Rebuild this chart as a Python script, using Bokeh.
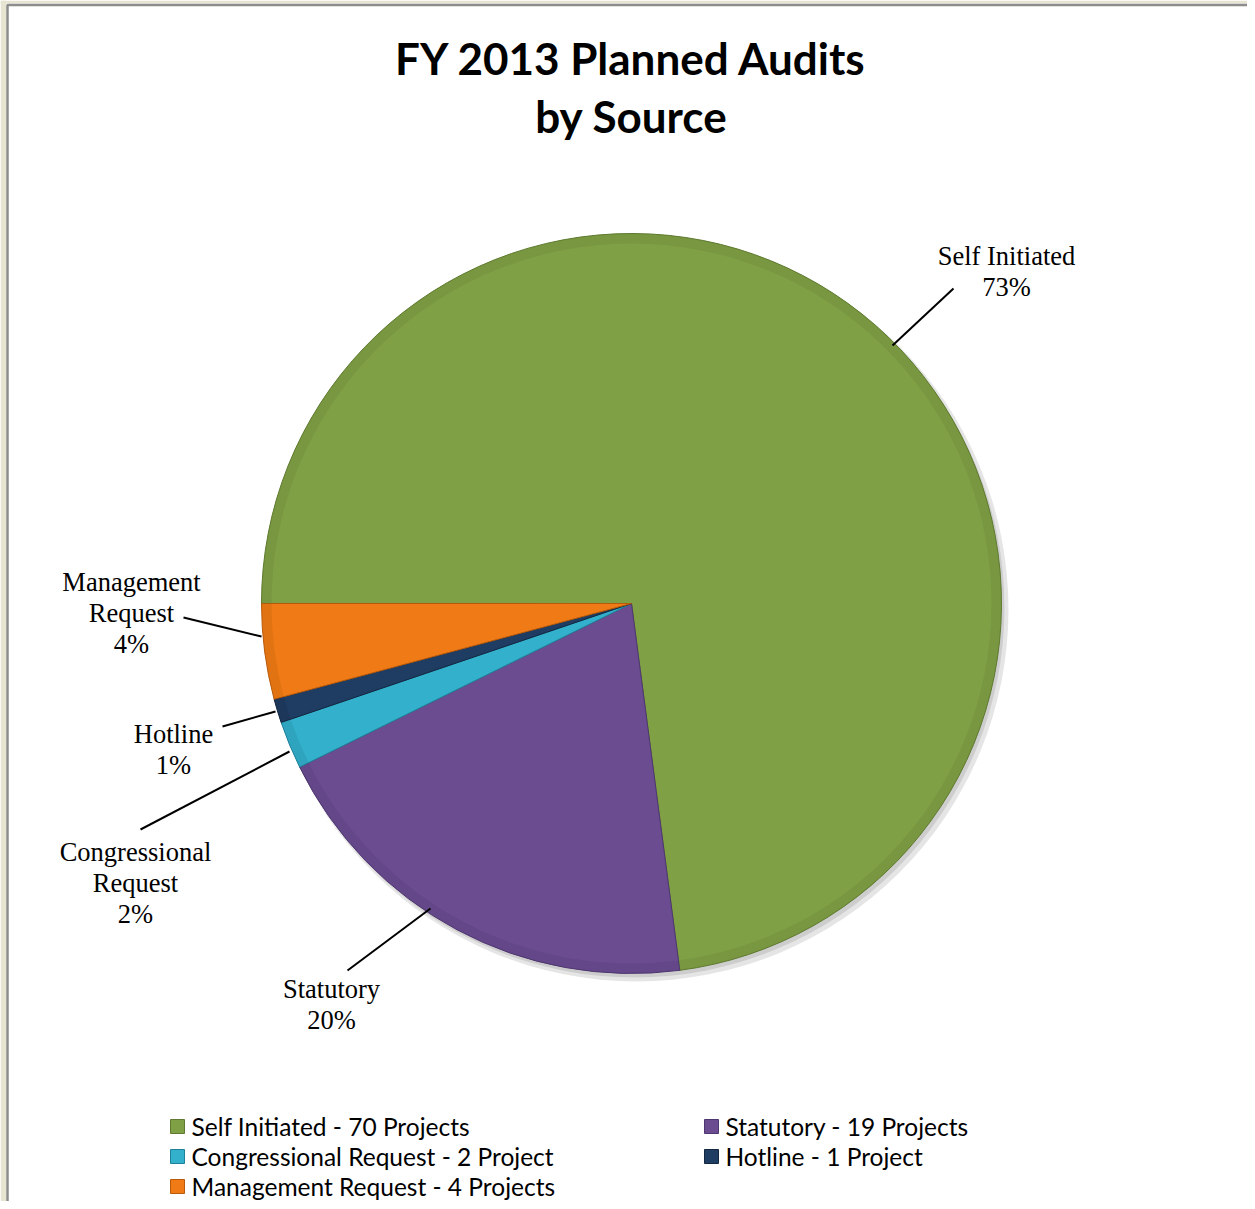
import math
from bokeh.plotting import figure
from bokeh.models import Range1d, ColumnDataSource
from bokeh.core.properties import value
from bokeh.embed import file_html
from bokeh.resources import INLINE

# ---- data ----
categories = ["Self Initiated", "Statutory", "Congressional Request", "Hotline", "Management Request"]
projects = [70, 19, 2, 1, 4]
legend_labels = ["Self Initiated - 70 Projects", "Statutory - 19 Projects",
                 "Congressional Request - 2 Project", "Hotline - 1 Project",
                 "Management Request - 4 Projects"]
label_lines = [["Self Initiated"], ["Statutory"], ["Congressional", "Request"],
               ["Hotline"], ["Management", "Request"]]
colors = ["#80a046", "#6b4c91", "#33b0cc", "#1f3d63", "#f07b16"]
edge_colors = ["#5f7a30", "#4e3670", "#1f8199", "#122640", "#b85a0a"]

W, H = 1247, 1201
def Y(py):  # reference pixel y -> data y
    return H - py

p = figure(width=W, height=H, x_range=Range1d(0, W), y_range=Range1d(0, H),
           output_backend="svg", toolbar_location=None, min_border=0)
p.axis.visible = False
p.grid.visible = False
p.outline_line_color = None
p.background_fill_color = "white"
p.border_fill_color = "white"

# frame (beige margin + grey line)
p.quad(left=[0, 0], right=[6, W], bottom=[0, Y(3)], top=[H, H], fill_color="#e8e4d2", line_color=None)
p.line([7, 7, W], [0, Y(4.5), Y(4.5)], line_color="#8c8c8c", line_width=2.5)

cx, cy, R = 631, Y(603), 370
total = sum(projects)
starts, ends = [], []
cum = 0
for v in projects:
    starts.append(math.pi - cum / total * 2 * math.pi)
    cum += v
    ends.append(math.pi - cum / total * 2 * math.pi)

# shadow
p.circle(x=[cx + 5], y=[cy - 6], radius=R + 2, fill_color="#000000", fill_alpha=0.10, line_color=None)
p.circle(x=[cx + 3], y=[cy - 4], radius=R, fill_color="#000000", fill_alpha=0.10, line_color=None)

src = ColumnDataSource(dict(x=[cx] * len(projects), y=[cy] * len(projects), s=starts, e=ends,
                            c=colors, ec=edge_colors))
p.wedge(x="x", y="y", radius=R, start_angle="s", end_angle="e", direction="clock",
        fill_color="c", line_color="ec", line_width=1, source=src)
# bevel-ish darker rim
p.annular_wedge(x="x", y="y", inner_radius=R - 10, outer_radius=R, start_angle="s", end_angle="e",
                direction="clock", fill_color="ec", fill_alpha=0.25, line_color=None, source=src)

# leader lines (label end -> pie end)
leaders = [((953, 288), (892, 345)),
           ((430, 908), (347, 970)),
           ((140, 829), (289, 751)),
           ((222, 726), (275, 711)),
           ((183, 617), (261, 636))]
for (a, b) in leaders:
    p.line([a[0], b[0]], [Y(a[1]), Y(b[1])], line_color="black", line_width=2)

# data labels
label_pos = [(1006, 255), (331, 988), (135, 851), (173, 733), (131, 581)]
lx, ly, lt = [], [], []
for i, lines in enumerate(label_lines):
    pct = round(projects[i] / total * 100)
    all_lines = lines + [f"{pct}%"]
    for j, t in enumerate(all_lines):
        lx.append(label_pos[i][0])
        ly.append(Y(label_pos[i][1] + j * 31))
        lt.append(t)
p.text(x=lx, y=ly, text=lt, text_font=value("Liberation Serif"), text_font_size="26.5px",
       text_align="center", text_baseline="middle", text_color="black")

# title
p.text(x=[631, 631], y=[Y(57), Y(115)], text=["FY 2013 Planned Audits", "by Source"],
       text_font=value("Lato"), text_font_style="bold", text_font_size="44px",
       text_align="center", text_baseline="middle", text_color="black")

# legend
leg_pos = [(170, 1126), (704, 1126), (170, 1156), (704, 1156), (170, 1186)]
p.rect(x=[q[0] + 7 for q in leg_pos], y=[Y(q[1]) for q in leg_pos], width=14, height=14,
       fill_color=colors, line_color=edge_colors, line_width=1)
p.text(x=[q[0] + 21 for q in leg_pos], y=[Y(q[1]) for q in leg_pos], text=legend_labels,
       text_font=value("Lato"), text_font_size="24.5px", text_align="left",
       text_baseline="middle", text_color="black")

open("out.html", "w").write(file_html(p, INLINE))
